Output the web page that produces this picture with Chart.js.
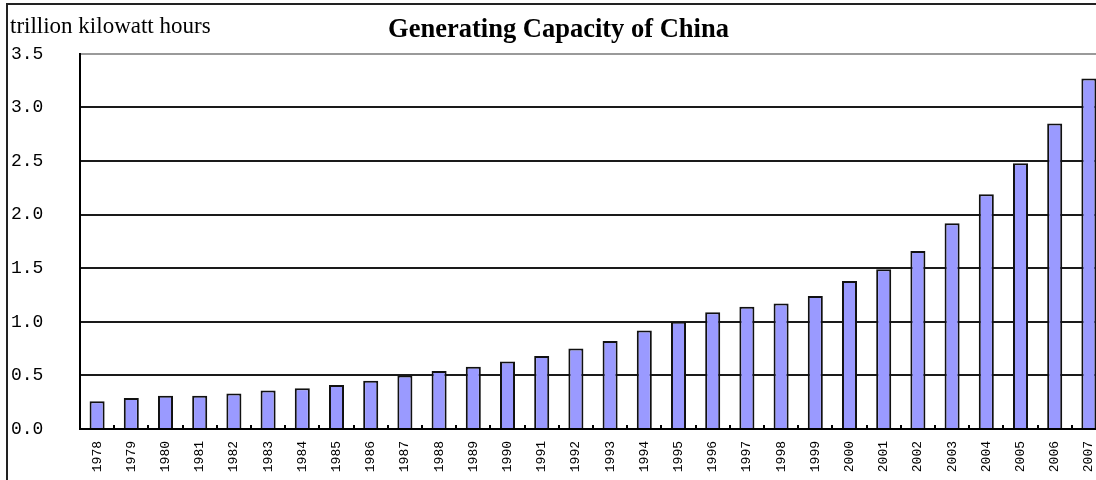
<!DOCTYPE html>
<html>
<head>
<meta charset="utf-8">
<title>Generating Capacity of China</title>
<script src="https://cdn.jsdelivr.net/npm/chart.js@4/dist/chart.umd.min.js"></script>
<style>
  html, body { margin: 0; padding: 0; background: #fff; overflow: hidden; }
  #wrap { position: absolute; left: 0; top: 0; width: 1120px; height: 500px; }
</style>
</head>
<body>
<div id="wrap"><canvas id="chart" width="1120" height="500"></canvas></div>
<script>
// yearly output, trillion kWh
const years = ['1978', '1979', '1980', '1981', '1982', '1983', '1984', '1985', '1986', '1987',
               '1988', '1989', '1990', '1991', '1992', '1993', '1994', '1995', '1996', '1997',
               '1998', '1999', '2000', '2001', '2002', '2003', '2004', '2005', '2006', '2007'];
const output = [0.26, 0.29, 0.31, 0.31, 0.33, 0.36, 0.38, 0.41, 0.45, 0.50,
                0.54, 0.58, 0.63, 0.68, 0.75, 0.82, 0.92, 1.00, 1.09, 1.14,
                1.17, 1.24, 1.38, 1.49, 1.66, 1.92, 2.19, 2.48, 2.85, 3.27];
const yTicks = [0, 0.5, 1.0, 1.5, 2.0, 2.5, 3.0, 3.5];

const titleText = 'Generating Capacity of China';
const unitText = 'trillion kilowatt hours';

// white page + outer frame, unit caption and small inward ticks on the x axis
const decorations = {
    id: 'decorations',
    beforeDraw(chart) {
        const ctx = chart.ctx;
        ctx.save();
        ctx.fillStyle = '#fff';
        ctx.fillRect(0, 0, chart.width, chart.height);
        ctx.strokeStyle = '#222';
        ctx.lineWidth = 2;
        ctx.strokeRect(7, 4, chart.width + 20, chart.height + 20);
        ctx.restore();
    },
    afterDraw(chart) {
        const ctx = chart.ctx;
        const x = chart.scales.x;
        const area = chart.chartArea;
        ctx.save();
        ctx.fillStyle = '#000';
        ctx.font = '23px "Liberation Serif"';
        ctx.textBaseline = 'alphabetic';
        ctx.fillText(unitText, 10, 33);

        ctx.strokeStyle = '#000';
        ctx.lineWidth = 2;
        ctx.beginPath();
        for (let i = 1; i < years.length; i++) {
            const px = Math.round((x.getPixelForValue(i - 1) + x.getPixelForValue(i)) / 2);
            ctx.moveTo(px, area.bottom);
            ctx.lineTo(px, area.bottom - 4);
        }
        ctx.stroke();
        ctx.restore();
    }
};

new Chart(document.getElementById('chart'), {
    type: 'bar',
    data: {
        labels: years,
        datasets: [{
            data: output,
            backgroundColor: '#9a9aff',
            borderColor: '#111',
            borderWidth: 2,
            barPercentage: 0.44,
            categoryPercentage: 1
        }]
    },
    options: {
        responsive: false,
        animation: false,
        devicePixelRatio: 1,
        layout: { padding: { left: 11, right: 14, top: 0, bottom: 11 } },
        plugins: {
            legend: { display: false },
            tooltip: { enabled: false },
            title: {
                display: true,
                text: titleText,
                color: '#000',
                font: { family: '"Liberation Serif"', size: 26.5, weight: 'bold' },
                padding: { top: 14, bottom: 8 }
            }
        },
        scales: {
            x: {
                grid: { display: false, drawTicks: false },
                border: { display: true, color: '#000', width: 2 },
                ticks: {
                    color: '#000',
                    font: { family: '"Liberation Mono"', size: 13 },
                    minRotation: 90,
                    maxRotation: 90,
                    autoSkip: false,
                    padding: 12
                },
                afterFit: (scale) => { scale.height = 60; }
            },
            y: {
                min: 0,
                max: 3.5,
                afterBuildTicks: (scale) => { scale.ticks = yTicks.map(v => ({ value: v })); },
                grid: {
                    drawTicks: false,
                    lineWidth: 2,
                    color: (c) => (c.tick && c.tick.value === 3.5 ? '#9a9a9a' : '#1a1a1a')
                },
                border: { display: true, color: '#000', width: 2 },
                ticks: {
                    color: '#000',
                    font: { family: '"Liberation Mono"', size: 18 },
                    crossAlign: 'far',
                    callback: (v) => Number(v).toFixed(1)
                },
                afterFit: (scale) => { scale.width = 69; }
            }
        }
    },
    plugins: [decorations]
});
</script>
</body>
</html>
